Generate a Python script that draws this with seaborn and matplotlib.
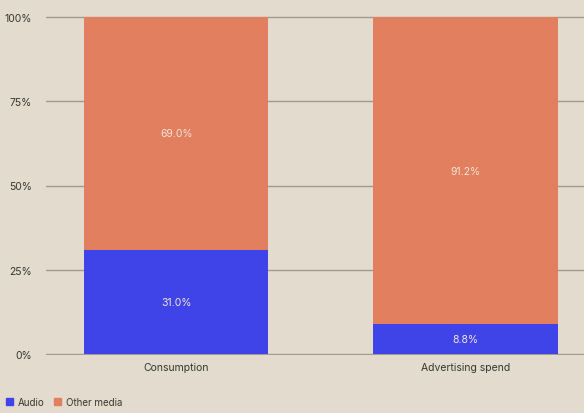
import matplotlib
matplotlib.use("Agg")
import matplotlib.pyplot as plt
import seaborn as sns
import pandas as pd
from matplotlib.patches import Patch

categories = ["Consumption", "Advertising spend"]
audio = [31.0, 8.8]
other_media = [69.0, 91.2]
yticks = [0, 25, 50, 75, 100]
ytick_labels = ["0%", "25%", "50%", "75%", "100%"]

BG = "#E3DBCD"
ORANGE = "#E27F5E"
BLUE = "#3F44E8"
TEXT = "#3A3530"

sns.set_theme(style="white")
plt.rcParams["font.family"] = ["Inter", "DejaVu Sans"]

df = pd.DataFrame({"category": categories, "audio": audio, "other": other_media})
df["total"] = df["audio"] + df["other"]

fig = plt.figure(figsize=(5.84, 4.14), dpi=100, facecolor=BG)
ax = fig.add_axes([46/584, 58/414, 1 - 46/584, (356-17)/414])
ax.set_facecolor(BG)

sns.barplot(data=df, x="category", y="total", color=ORANGE, width=0.637,
            saturation=1, ax=ax, zorder=2, linewidth=0, edgecolor="none")
sns.barplot(data=df, x="category", y="audio", color=BLUE, width=0.637,
            saturation=1, ax=ax, zorder=3, linewidth=0, edgecolor="none")

for i, (a, o) in enumerate(zip(audio, other_media)):
    ax.text(i, a / 2, f"{a:.1f}%", ha="center", va="center", color="#F3E4DA",
            fontsize=7.5, zorder=4)
    ax.text(i, a + o / 2, f"{o:.1f}%", ha="center", va="center", color="#F3E4DA",
            fontsize=7.5, zorder=4)

ax.set_xlim(-0.45, 1.41)
ax.set_ylim(-0.3, 100.3)
ax.set_yticks(yticks)
ax.set_yticklabels(ytick_labels)
ax.yaxis.grid(True, color="#A09A92", linewidth=1)
ax.set_axisbelow(True)
for s in ax.spines.values():
    s.set_visible(False)
ax.set_xlabel("")
ax.set_ylabel("")
ax.tick_params(axis="both", length=0, labelsize=7.5, colors=TEXT)
ax.tick_params(axis="y", pad=10)
ax.tick_params(axis="x", pad=5)

handles = [Patch(color=BLUE, label="Audio"), Patch(color=ORANGE, label="Other media")]
fig.legend(handles=handles, loc="lower left", bbox_to_anchor=(0.0, 0.0), ncol=2,
           frameon=False, fontsize=7, handlelength=0.7, handleheight=0.7,
           handletextpad=0.5, columnspacing=1.0, borderaxespad=0.25,
           labelcolor=TEXT)

fig.savefig("out.png", dpi=100, facecolor=BG)
